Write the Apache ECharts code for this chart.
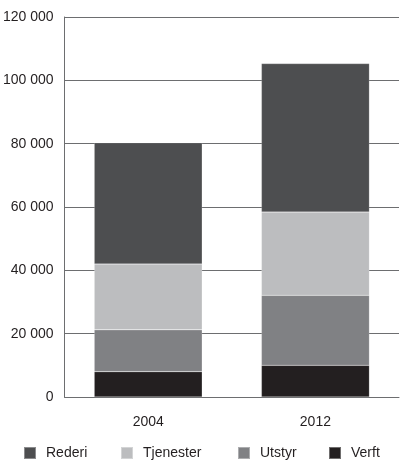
<!DOCTYPE html>
<html>
<head>
<meta charset="utf-8">
<script src="https://cdn.jsdelivr.net/npm/echarts@6/dist/echarts.min.js"></script>
<style>
  html, body { margin: 0; padding: 0; background: #fff; }
  #chart { width: 400px; height: 472px; }
</style>
</head>
<body>
<div id="chart"></div>
<script>
// data
var years = ["2004", "2012"];
var verft = [8000, 10000];
var utstyr = [13200, 22100];
var tjenester = [20800, 26300];
var rederi = [38300, 46900];
var legendOrder = ["Rederi", "Tjenester", "Utstyr", "Verft"];

var font = "Liberation Sans, Arial, sans-serif";
// legend box has 5px padding, so icons land 5px to the right of these
var legendLeft = [18, 115, 232, 323];

function fmt(v) {
  return String(v).replace(/\B(?=(\d{3})+(?!\d))/g, " ");
}

function bar(name, data, color) {
  return {
    name: name,
    type: "bar",
    stack: "total",
    barWidth: 108,
    data: data,
    itemStyle: { color: color, borderColor: "rgba(255,255,255,0.35)", borderWidth: 0.5 }
  };
}

// one legend per item so the uneven spacing of the original can be kept
var legends = legendOrder.map(function (n, i) {
  return {
    data: [n],
    left: legendLeft[i],
    top: 441,
    itemWidth: 12,
    itemHeight: 12,
    icon: "rect",
    selectedMode: false,
    textStyle: { fontFamily: font, fontSize: 14, color: "#231f20", padding: [0, 0, 0, 5] }
  };
});

var chart = echarts.init(document.getElementById("chart"), null, { renderer: "canvas" });
chart.setOption({
  animation: false,
  grid: { left: 63, right: 1, top: 17, bottom: 75, containLabel: false },
  legend: legends,
  xAxis: {
    type: "category",
    data: years,
    axisLine: { lineStyle: { color: "#6d6e70", width: 1 } },
    axisTick: { show: false },
    axisLabel: { fontFamily: font, fontSize: 14, color: "#231f20", margin: 18 }
  },
  yAxis: {
    type: "value",
    min: 0,
    max: 120000,
    interval: 20000,
    axisLine: { show: true, lineStyle: { color: "#6d6e70", width: 1 } },
    axisTick: { show: false },
    splitLine: { lineStyle: { color: "#6d6e70", width: 1 } },
    axisLabel: { fontFamily: font, fontSize: 14, color: "#231f20", margin: 11, formatter: fmt }
  },
  series: [
    bar("Verft", verft, "#231f20"),
    bar("Utstyr", utstyr, "#808184"),
    bar("Tjenester", tjenester, "#bcbdbf"),
    bar("Rederi", rederi, "#4d4e50")
  ]
});
</script>
</body>
</html>
